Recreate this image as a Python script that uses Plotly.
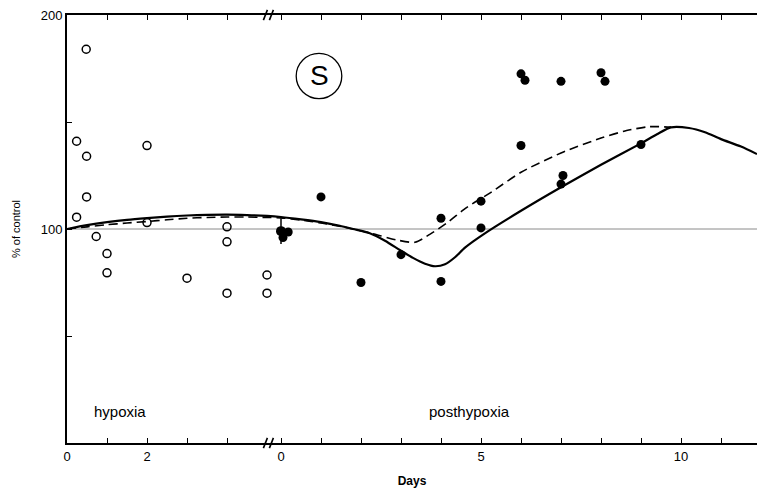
import plotly.graph_objects as go

# ---------------- data ----------------
OFFSET = 5.35  # position of posthypoxia day 0 on the shared axis (axis break)

hyp_days = [0.48, 0.24, 0.49, 2.0, 0.49, 0.24, 2.0, 4.0, 0.73, 1.0, 1.0, 3.0, 4.0, 4.0, 5.0, 5.0]
hyp_vals = [184, 141, 134, 139, 115, 105.5, 103, 101, 96.5, 88.5, 79.5, 77, 94, 70, 78.5, 70]

post_days = [0.18, 0.05, 1.0, 2.0, 3.0, 4.0, 4.0, 5.0, 5.0, 6.0, 6.1, 6.0, 7.0, 7.05, 7.0, 8.0, 8.1, 9.0]
post_vals = [98.6, 96, 115, 75, 88, 105, 75.5, 113, 100.5, 172.5, 169.5, 139, 169, 125, 121, 173, 169, 139.5]

post0_day = [0.0]
post0_val = [99]
post0_err = [6]

# fitted curves: hypoxia part (hypoxia days) and posthypoxia part (posthypoxia days)
solid_hyp_d = [0, 0.5, 1, 1.5, 2, 2.5, 3, 3.5, 4, 4.5, 5]
solid_hyp_v = [100, 101.8, 103.2, 104.3, 105.1, 105.8, 106.3, 106.6, 106.7, 106.5, 106.1]
solid_post_d = [0, 0.5, 1, 1.47, 1.8, 2.22, 2.6, 2.97, 3.3, 3.6, 3.85, 4.1, 4.35, 4.6, 5.06, 6.0,
                7.0, 8.0, 9.0, 9.4, 9.75, 10.2, 10.6, 11.0, 11.5, 11.9]
solid_post_v = [105.6, 104.5, 103.2, 101.5, 100, 98, 94.5, 90.2, 86.5, 83.8, 82.6, 83.5, 86.8, 91.3,
                97.5, 108.5, 119.5, 130, 140, 144.3, 147.5, 147.2, 145.2, 142, 138.5, 135]

dash_hyp_d = [0, 0.5, 1, 1.5, 2, 2.5, 3, 3.5, 4, 4.5, 5]
dash_hyp_v = [100, 101, 102, 102.8, 103.5, 104.3, 105, 105.4, 105.6, 105.6, 105.4]
dash_post_d = [0, 0.5, 1, 1.5, 1.8, 2.3, 2.89, 3.35, 3.72, 4.14, 4.56, 4.8, 5.2, 6.0, 7.0, 8.0,
               8.64, 9.2, 9.75]
dash_post_v = [105.2, 104.2, 102.8, 101.2, 100, 97.8, 94.9, 93.8, 97.5, 102.7, 108.9, 112, 116.5,
               126.5, 135.5, 142.5, 146, 147.8, 147.6]

hyp_tick_days = [0, 1, 2, 3, 4]
hyp_tick_text = ["0", "", "2", "", ""]
post_tick_days = list(range(0, 12))
post_tick_text = ["0", "", "", "", "", "5", "", "", "", "", "10", ""]

y_tick_vals = [0, 50, 100, 150, 200]
y_tick_text = ["", "", "100", "", "200"]

# ---------------- figure ----------------
def pos(days):
    return [d + OFFSET for d in days]

solid_x = solid_hyp_d + pos(solid_post_d)
solid_y = solid_hyp_v + solid_post_v
dash_x = dash_hyp_d + pos(dash_post_d)
dash_y = dash_hyp_v + dash_post_v

X_MAX = 17.25

fig = go.Figure()

# reference line at 100 %
fig.add_trace(go.Scatter(x=[0, X_MAX], y=[100, 100], mode="lines",
                         line=dict(color="#8a8a8a", width=1), showlegend=False, hoverinfo="skip"))

fig.add_trace(go.Scatter(x=dash_x, y=dash_y, mode="lines",
                         line=dict(color="black", width=1.6, dash="9px,5px", shape="spline", smoothing=0.7),
                         showlegend=False))
fig.add_trace(go.Scatter(x=solid_x, y=solid_y, mode="lines",
                         line=dict(color="black", width=2.2, shape="spline", smoothing=0.7),
                         showlegend=False))

fig.add_trace(go.Scatter(x=hyp_days, y=hyp_vals, mode="markers",
                         marker=dict(symbol="circle-open", size=8, color="black",
                                     line=dict(width=1.5, color="black")),
                         showlegend=False, name="hypoxia"))
fig.add_trace(go.Scatter(x=pos(post_days), y=post_vals, mode="markers",
                         marker=dict(symbol="circle", size=9, color="black"),
                         showlegend=False, name="posthypoxia"))
fig.add_trace(go.Scatter(x=pos(post0_day), y=post0_val, mode="markers",
                         marker=dict(symbol="circle", size=10, color="black"),
                         error_y=dict(type="data", array=post0_err, visible=True,
                                      color="black", thickness=1.5, width=0),
                         showlegend=False))

tickvals = hyp_tick_days + pos(post_tick_days)
ticktext = hyp_tick_text + post_tick_text

font = "Liberation Sans, Arial, sans-serif"

shapes = []
# axis-break marks (//) on bottom and top axes
bx = 5.05
for yb in (0, 1):
    for dx in (-0.09, 0.06):
        shapes.append(dict(type="line", xref="x", yref="paper",
                           x0=bx + dx - 0.05, x1=bx + dx + 0.05,
                           y0=yb - 0.012, y1=yb + 0.012,
                           line=dict(color="black", width=1.6)))
# circled S label
cx, cy = 6.3, 171.5
shapes.append(dict(type="circle", xref="x", yref="y",
                   x0=cx - 0.57, x1=cx + 0.57, y0=cy - 10.6, y1=cy + 10.6,
                   line=dict(color="black", width=1.3)))

PL, PT, PW, PH = 67, 15, 757 - 67, 443 - 15

def px_to_paper(x, y):
    return (x - PL) / PW, 1 - (y - PT) / PH

hx, hy = px_to_paper(120, 411)
px_, py_ = px_to_paper(469, 411)

annotations = [
    dict(x=cx, y=cy, xref="x", yref="y", text="S", showarrow=False,
         font=dict(family=font, size=28, color="black")),
    dict(x=hx, y=hy, xref="paper", yref="paper", text="hypoxia", showarrow=False,
         xanchor="center", yanchor="middle", font=dict(family=font, size=15, color="black")),
    dict(x=px_, y=py_, xref="paper", yref="paper", text="posthypoxia", showarrow=False,
         xanchor="center", yanchor="middle", font=dict(family=font, size=15, color="black")),
]

fig.update_layout(
    width=757, height=489,
    margin=dict(l=PL, r=0, t=PT, b=489 - 443),
    plot_bgcolor="white", paper_bgcolor="white",
    font=dict(family=font, color="black", size=12),
    shapes=shapes, annotations=annotations,
    xaxis=dict(range=[0, X_MAX], tickmode="array", tickvals=tickvals, ticktext=ticktext,
               ticks="inside", ticklen=5, tickwidth=1.3, tickcolor="black",
               showline=True, linecolor="black", linewidth=1.8, mirror="ticks",
               showgrid=False, zeroline=False, automargin=False,
               tickfont=dict(family=font, size=13, color="black"),
               title=dict(text="<b>Days</b>", font=dict(family=font, size=12, color="black"),
                          standoff=14)),
    yaxis=dict(range=[0, 200], tickmode="array", tickvals=y_tick_vals, ticktext=y_tick_text,
               ticks="inside", ticklen=5, tickwidth=1.3, tickcolor="black",
               showline=True, linecolor="black", linewidth=1.8, mirror=False,
               showgrid=False, zeroline=False, automargin=False,
               tickfont=dict(family=font, size=13, color="black"),
               title=dict(text="% of control", font=dict(family=font, size=11, color="black"),
                          standoff=18)),
)

fig.write_html("out.html")
